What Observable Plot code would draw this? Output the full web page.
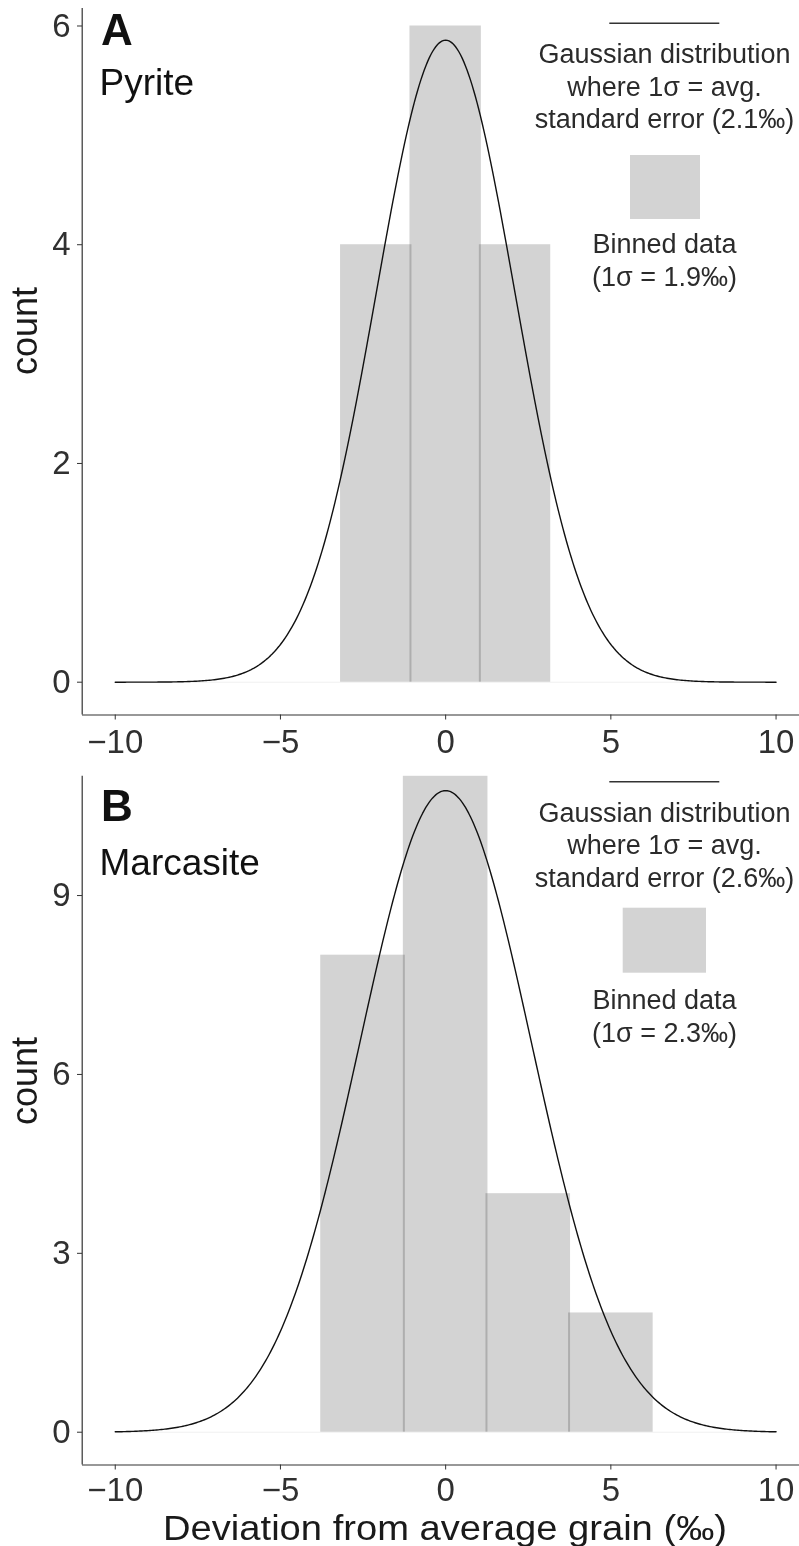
<!DOCTYPE html>
<html>
<head>
<meta charset="utf-8">
<script src="https://cdn.jsdelivr.net/npm/d3@7"></script>
<script src="https://cdn.jsdelivr.net/npm/@observablehq/plot@0.6"></script>
<style>
  body { margin: 0; background: #fff; }
  #chart svg { display: block; }
</style>
</head>
<body>
<div id="chart"></div>
<script>
// Shared x axis (deviation from the average grain, ‰)
const xTicks = [-10, -5, 0, 5, 10];
const xDomain = [-11, 11];
const curveExtent = [-10, 10];

// Panel A – pyrite
const pyriteBinEdges = [-3.15, -1.05, 1.05, 3.15];
const pyriteCounts = [4, 6, 4];
const pyriteYTicks = [0, 2, 4, 6];
const pyriteAvgSE = 2.1;        // σ of the reference Gaussian (‰)
const pyriteBinnedSigma = 1.9;  // σ of the binned data (‰)
const pyritePeak = 5.87;        // Gaussian height at 0 (count)

// Panel B – marcasite
const marcasiteBinEdges = [-3.75, -1.25, 1.25, 3.75, 6.25];
const marcasiteCounts = [8, 11, 4, 2];
const marcasiteYTicks = [0, 3, 6, 9];
const marcasiteAvgSE = 2.6;
const marcasiteBinnedSigma = 2.3;
const marcasitePeak = 10.76;

const FONT = "'Liberation Sans', Arial, Helvetica, sans-serif";
const W = 799;

const panels = [
  {
    letter: "A", name: "Pyrite",
    edges: pyriteBinEdges, counts: pyriteCounts, yTicks: pyriteYTicks,
    sigma: pyriteAvgSE, binnedSigma: pyriteBinnedSigma, peak: pyritePeak,
    yTop: 6.16, height: 760, marginTop: 8, marginBottom: 45.5, tickPadding: 10,
    layout: {letterY: 45, nameY: 95, countY: 331, lineY: 23.3, textY: 63.3,
             box: [630, 155, 700, 219], binnedY: 253.3},
    xTitle: false
  },
  {
    letter: "B", name: "Marcasite",
    edges: marcasiteBinEdges, counts: marcasiteCounts, yTicks: marcasiteYTicks,
    sigma: marcasiteAvgSE, binnedSigma: marcasiteBinnedSigma, peak: marcasitePeak,
    yTop: 11, height: 786, marginTop: 15.8, marginBottom: 81.5, tickPadding: 7.5,
    layout: {letterY: 61, nameY: 115, countY: 321, lineY: 21.7, textY: 61.7,
             box: [622.7, 147.7, 706, 212.7], binnedY: 249.3},
    xTitle: true
  }
];

function drawPanel(p) {
  const bins = p.counts.map((count, i) => ({x1: p.edges[i], x2: p.edges[i + 1], count}));
  // Gaussian with 1σ = average standard error, evaluated across the plotted range
  const curve = d3.range(curveExtent[0], curveExtent[1] + 1e-9, 0.05)
    .map(x => ({x, y: p.peak * Math.exp(-(x * x) / (2 * p.sigma * p.sigma))}));
  const yDomain = [-0.05 * d3.max(p.counts), p.yTop];

  const svg = Plot.plot({
    width: W,
    height: p.height,
    marginLeft: 82,
    marginRight: 0,
    marginTop: p.marginTop,
    marginBottom: p.marginBottom,
    style: {fontFamily: FONT, fontSize: "33px", color: "#303030", background: "white"},
    x: {domain: xDomain, range: [81.7, 808.6]},
    y: {domain: yDomain},
    marks: [
      Plot.ruleY([0], {x1: curveExtent[0], x2: curveExtent[1], stroke: "#f0f0f0"}),
      // one mark per bin so that adjoining edges darken where they overlap
      ...bins.map(b => Plot.rectY([b], {
        x1: "x1", x2: "x2", y: "count", fill: "#d3d3d3",
        insetLeft: -1, insetRight: -1, mixBlendMode: "multiply"
      })),
      Plot.line(curve, {x: "x", y: "y", stroke: "#111", strokeWidth: 1.4}),
      Plot.axisX({ticks: xTicks, tickSize: 5, tickPadding: p.tickPadding, label: null, stroke: "#333"}),
      Plot.axisY({ticks: p.yTicks, tickSize: 5, tickPadding: 7, label: null, stroke: "#333",
                  tickFormat: d3.format("d")}),
      Plot.ruleX([xDomain[0]], {stroke: "#333", strokeWidth: 1.2}),
      Plot.ruleY([yDomain[0]], {stroke: "#333", strokeWidth: 1.2})
    ]
  });

  const L = p.layout;
  const g = d3.select(svg).append("g").attr("font-family", FONT);

  // panel letter and mineral name
  g.append("text").attr("x", 101).attr("y", L.letterY).attr("text-anchor", "start")
    .attr("font-size", 44).attr("font-weight", "bold").attr("fill", "#111").text(p.letter);
  g.append("text").attr("x", 99.5).attr("y", L.nameY).attr("text-anchor", "start")
    .attr("font-size", 37).attr("fill", "#111").text(p.name);

  // y axis title
  g.append("text")
    .attr("transform", `translate(37,${L.countY}) rotate(-90)`)
    .attr("text-anchor", "middle").attr("font-size", 36).attr("fill", "#1a1a1a")
    .text("count");

  // legend: Gaussian line, then binned-data swatch
  const cx = 664.5;
  g.append("line").attr("x1", 609.3).attr("x2", 719.3)
    .attr("y1", L.lineY).attr("y2", L.lineY).attr("stroke", "#333").attr("stroke-width", 1.5);
  const gaussLines = ["Gaussian distribution", "where 1σ = avg.", `standard error (${p.sigma.toFixed(1)}‰)`];
  gaussLines.forEach((t, i) => {
    g.append("text").attr("x", cx).attr("y", L.textY + i * 32.4)
      .attr("text-anchor", "middle").attr("font-size", 27).attr("fill", "#2b2b2b").text(t);
  });
  const [bx1, by1, bx2, by2] = L.box;
  g.append("rect").attr("x", bx1).attr("y", by1).attr("width", bx2 - bx1).attr("height", by2 - by1)
    .attr("fill", "#d3d3d3");
  const binnedLines = ["Binned data", `(1σ = ${p.binnedSigma.toFixed(1)}‰)`];
  binnedLines.forEach((t, i) => {
    g.append("text").attr("x", cx).attr("y", L.binnedY + i * 32.4)
      .attr("text-anchor", "middle").attr("font-size", 27).attr("fill", "#2b2b2b").text(t);
  });

  if (p.xTitle) {
    g.append("text").attr("x", 445).attr("y", p.height - 6.5)
      .attr("text-anchor", "middle").attr("font-size", 35).attr("fill", "#1a1a1a")
      .attr("textLength", 564).attr("lengthAdjust", "spacingAndGlyphs")
      .text("Deviation from average grain (‰)");
  }
  return svg;
}

const root = document.getElementById("chart");
panels.forEach(p => root.appendChild(drawPanel(p)));
</script>
</body>
</html>
